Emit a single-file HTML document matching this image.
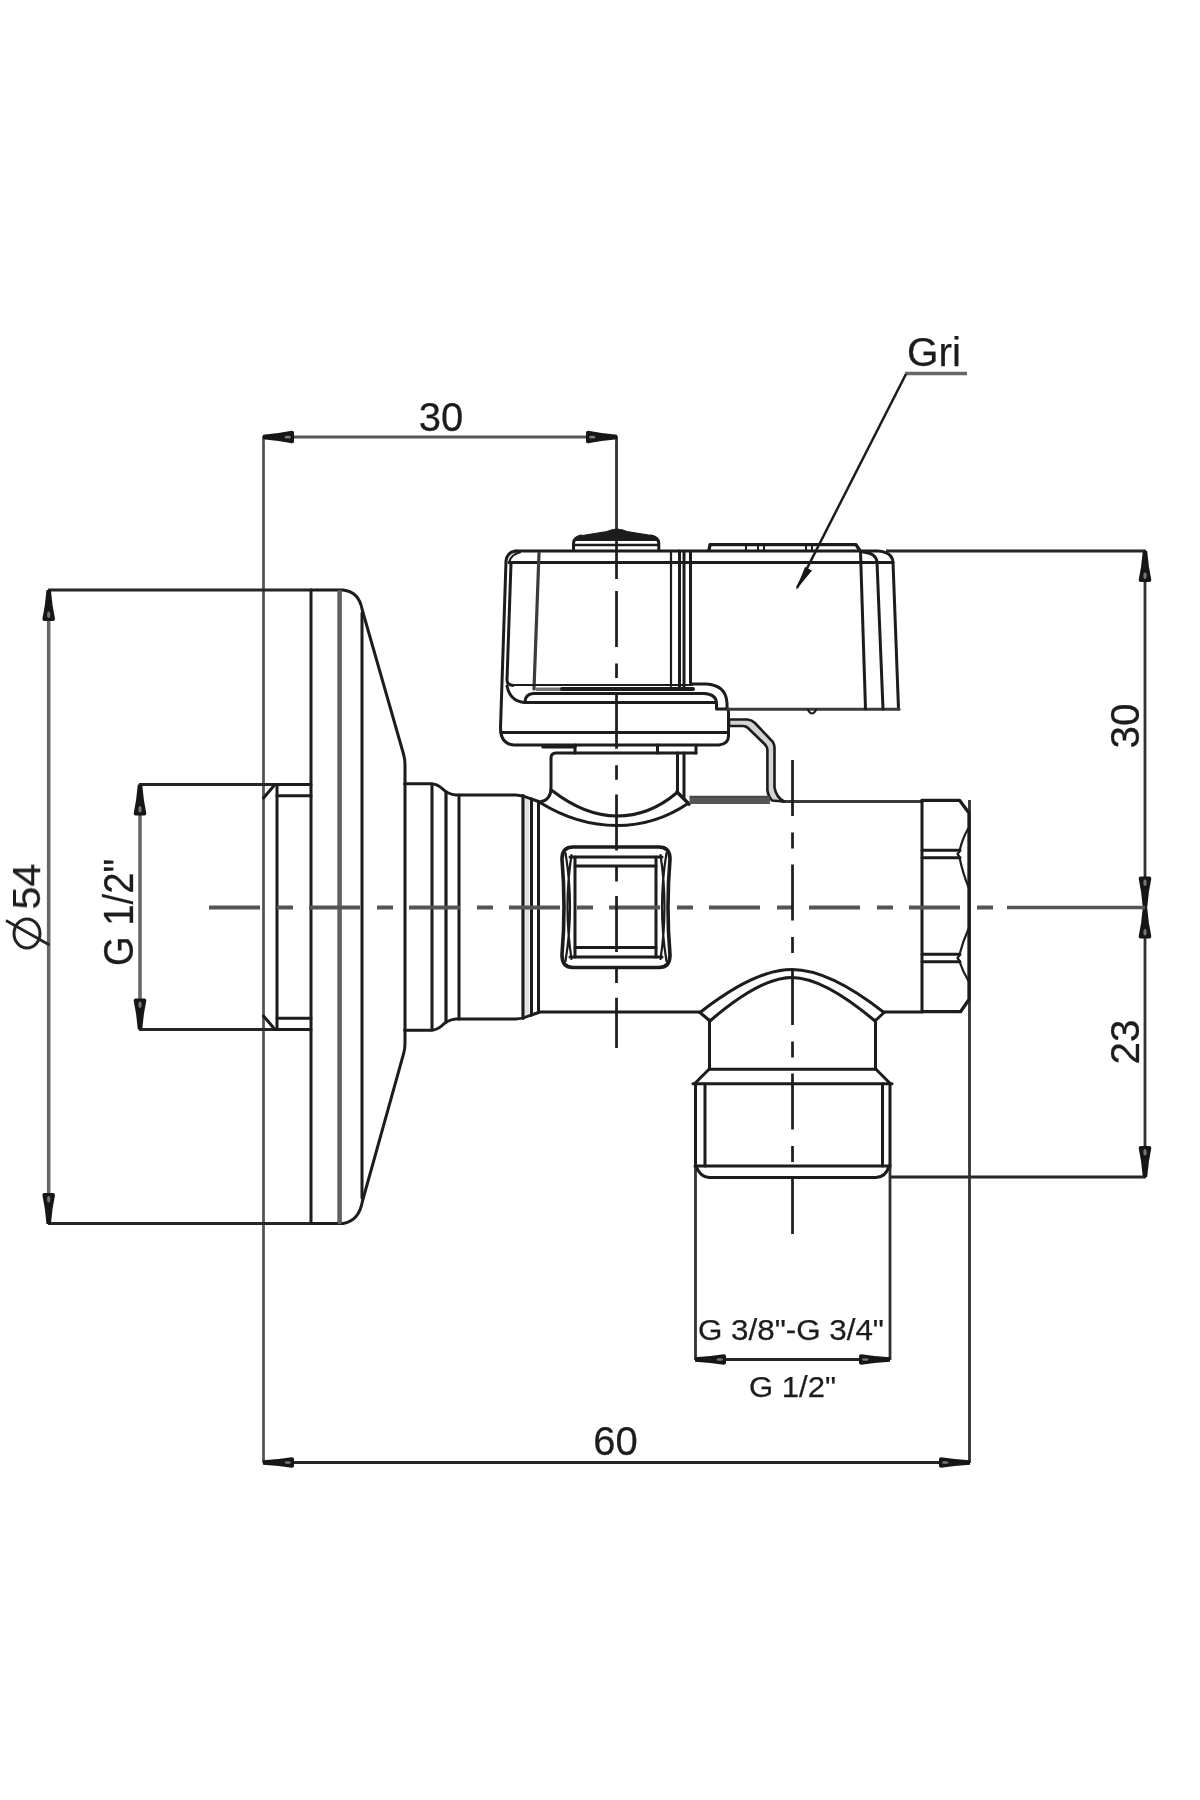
<!DOCTYPE html>
<html><head><meta charset="utf-8"><title>valve drawing</title>
<style>
html,body{margin:0;padding:0;background:#fff;}
body{width:1200px;height:1800px;overflow:hidden;}
svg{display:block;}
text{font-family:"Liberation Sans",sans-serif;}
</style></head><body>
<svg width="1200" height="1800" viewBox="0 0 1200 1800">
<rect x="0" y="0" width="1200" height="1800" fill="#fff"/>
<g filter="url(#soft)">
<defs><filter id="soft" x="0" y="0" width="1200" height="1800" filterUnits="userSpaceOnUse"><feGaussianBlur stdDeviation="0.6"/></filter></defs>
<g id="dim" fill="none" stroke="#3c3c3c" stroke-width="2.8" stroke-linecap="butt">
<path d="M263.5,436 V1463" stroke="#555" stroke-width="2.8"/>
<path d="M263,437 H617" stroke="#555" stroke-width="2.8"/>
<path d="M616.5,436 V530" stroke="#303030"/>
<path d="M48,590 H312" stroke="#262626"/>
<path d="M48,1223.5 H312" stroke="#262626"/>
<path d="M48.7,590 V1224" stroke="#686868" stroke-width="3.6"/>
<path d="M139,784.5 H275" stroke="#262626"/>
<path d="M139,1029.5 H275" stroke="#262626"/>
<path d="M140,784.5 V1029.5" stroke="#686868" stroke-width="3.6"/>
<path d="M886,551 H1146" stroke="#262626"/>
<path d="M890,1177 H1146" stroke="#262626"/>
<path d="M1145,551 V1177" stroke="#303030"/>
<path d="M969.5,800 V1463" stroke="#303030"/>
<path d="M695.5,1166 V1360" stroke="#303030"/>
<path d="M890,1166 V1360" stroke="#303030"/>
<path d="M695,1359.5 H890" stroke="#262626"/>
<path d="M263,1462.5 H970" stroke="#262626"/>
</g>
<path d="M905,373.5 H967" fill="none" stroke="#666" stroke-width="3.4"/>
<path d="M906,374 L797,588" fill="none" stroke="#1a1a1a" stroke-width="2.5"/>
<g id="arrows" fill="#161616" stroke="none">
<g transform="translate(263.0,437.0) rotate(90)"><path d="M-2.2,0 L-3.9,-15.5 L-6.3,-28.8 Q-6.3,-31.0 -4.4,-31.0 L4.4,-31.0 Q6.3,-31.0 6.3,-28.8 L3.9,-15.5 L2.2,0 Z"/><ellipse cx="0" cy="-24.8" rx="1.6" ry="3.2" fill="#777"/></g>
<g transform="translate(617.0,437.0) rotate(-90)"><path d="M-2.2,0 L-3.9,-15.5 L-6.3,-28.8 Q-6.3,-31.0 -4.4,-31.0 L4.4,-31.0 Q6.3,-31.0 6.3,-28.8 L3.9,-15.5 L2.2,0 Z"/><ellipse cx="0" cy="-24.8" rx="1.6" ry="3.2" fill="#777"/></g>
<g transform="translate(48.7,590.0) rotate(180)"><path d="M-2.2,0 L-3.9,-15.5 L-6.3,-28.8 Q-6.3,-31.0 -4.4,-31.0 L4.4,-31.0 Q6.3,-31.0 6.3,-28.8 L3.9,-15.5 L2.2,0 Z"/><ellipse cx="0" cy="-24.8" rx="1.6" ry="3.2" fill="#777"/></g>
<g transform="translate(48.7,1224.0) rotate(0)"><path d="M-2.2,0 L-3.9,-15.5 L-6.3,-28.8 Q-6.3,-31.0 -4.4,-31.0 L4.4,-31.0 Q6.3,-31.0 6.3,-28.8 L3.9,-15.5 L2.2,0 Z"/><ellipse cx="0" cy="-24.8" rx="1.6" ry="3.2" fill="#777"/></g>
<g transform="translate(140.0,784.5) rotate(180)"><path d="M-2.2,0 L-3.9,-15.5 L-6.3,-28.8 Q-6.3,-31.0 -4.4,-31.0 L4.4,-31.0 Q6.3,-31.0 6.3,-28.8 L3.9,-15.5 L2.2,0 Z"/><ellipse cx="0" cy="-24.8" rx="1.6" ry="3.2" fill="#777"/></g>
<g transform="translate(140.0,1029.5) rotate(0)"><path d="M-2.2,0 L-3.9,-15.5 L-6.3,-28.8 Q-6.3,-31.0 -4.4,-31.0 L4.4,-31.0 Q6.3,-31.0 6.3,-28.8 L3.9,-15.5 L2.2,0 Z"/><ellipse cx="0" cy="-24.8" rx="1.6" ry="3.2" fill="#777"/></g>
<g transform="translate(1145.0,551.0) rotate(180)"><path d="M-2.2,0 L-3.9,-15.5 L-6.3,-28.8 Q-6.3,-31.0 -4.4,-31.0 L4.4,-31.0 Q6.3,-31.0 6.3,-28.8 L3.9,-15.5 L2.2,0 Z"/><ellipse cx="0" cy="-24.8" rx="1.6" ry="3.2" fill="#777"/></g>
<g transform="translate(1145.0,907.5) rotate(0)"><path d="M-2.2,0 L-3.9,-15.5 L-6.3,-28.8 Q-6.3,-31.0 -4.4,-31.0 L4.4,-31.0 Q6.3,-31.0 6.3,-28.8 L3.9,-15.5 L2.2,0 Z"/><ellipse cx="0" cy="-24.8" rx="1.6" ry="3.2" fill="#777"/></g>
<g transform="translate(1145.0,907.5) rotate(180)"><path d="M-2.2,0 L-3.9,-15.5 L-6.3,-28.8 Q-6.3,-31.0 -4.4,-31.0 L4.4,-31.0 Q6.3,-31.0 6.3,-28.8 L3.9,-15.5 L2.2,0 Z"/><ellipse cx="0" cy="-24.8" rx="1.6" ry="3.2" fill="#777"/></g>
<g transform="translate(1145.0,1177.0) rotate(0)"><path d="M-2.2,0 L-3.9,-15.5 L-6.3,-28.8 Q-6.3,-31.0 -4.4,-31.0 L4.4,-31.0 Q6.3,-31.0 6.3,-28.8 L3.9,-15.5 L2.2,0 Z"/><ellipse cx="0" cy="-24.8" rx="1.6" ry="3.2" fill="#777"/></g>
<g transform="translate(695.0,1359.5) rotate(90)"><path d="M-2.2,0 L-3.5,-15.5 L-5.2,-28.8 Q-5.2,-31.0 -3.6,-31.0 L3.6,-31.0 Q5.2,-31.0 5.2,-28.8 L3.5,-15.5 L2.2,0 Z"/><ellipse cx="0" cy="-24.8" rx="1.3" ry="3.2" fill="#777"/></g>
<g transform="translate(890.0,1359.5) rotate(-90)"><path d="M-2.2,0 L-3.5,-15.5 L-5.2,-28.8 Q-5.2,-31.0 -3.6,-31.0 L3.6,-31.0 Q5.2,-31.0 5.2,-28.8 L3.5,-15.5 L2.2,0 Z"/><ellipse cx="0" cy="-24.8" rx="1.3" ry="3.2" fill="#777"/></g>
<g transform="translate(263.0,1462.5) rotate(90)"><path d="M-2.2,0 L-3.5,-15.5 L-5.2,-28.8 Q-5.2,-31.0 -3.6,-31.0 L3.6,-31.0 Q5.2,-31.0 5.2,-28.8 L3.5,-15.5 L2.2,0 Z"/><ellipse cx="0" cy="-24.8" rx="1.3" ry="3.2" fill="#777"/></g>
<g transform="translate(970.0,1462.5) rotate(-90)"><path d="M-2.2,0 L-3.5,-15.5 L-5.2,-28.8 Q-5.2,-31.0 -3.6,-31.0 L3.6,-31.0 Q5.2,-31.0 5.2,-28.8 L3.5,-15.5 L2.2,0 Z"/><ellipse cx="0" cy="-24.8" rx="1.3" ry="3.2" fill="#777"/></g>
<polygon points="796,590 805,567 812,570.5"/>
</g>
<g id="obj" fill="none" stroke="#1c1c1c" stroke-width="3" stroke-linejoin="round" stroke-linecap="round">
<path d="M311,590 H343 Q359,592 362,609 L403.5,754 Q405,759 405,765 V1043 Q405,1049 403.5,1054 L362.5,1201 Q359,1221 343,1223.5 H311 Z"/>
<path d="M339.6,592 V1222" stroke="#626262" stroke-width="4.6"/>
<path d="M362,613 V1198"/>
<path d="M311,784.5 H275 L263.5,798 M263.5,1016 L275,1029.5 H311"/>
<path d="M277,786 V1028"/>
<path d="M277,795.7 H311 M277,1018.3 H311"/>
<path d="M527.3,798 V1016" stroke="#e0e0e0" stroke-width="4" stroke-linecap="butt"/>
<path d="M404.5,783.7 H431 Q437,784 441.5,788 Q448,794.5 456,795 H516 Q524,795.5 530,798.5 L538.5,801.5"/>
<path d="M404.5,1030.3 H431 Q437,1030 441.5,1026 Q448,1019.5 456,1019 H516 Q524,1018.5 530,1015.5 L538.5,1012.5"/>
<path d="M432,784 V1030 M459,795 V1019 M531.5,799 V1015 M538.5,801.5 V1012.5"/>
<path d="M446,792 V1022 M523,795.5 V1018.5" stroke-width="3.2"/>
<path d="M539,1012 H700 M884,1012 H922"/>
<path d="M783,801.5 H922" stroke="#3a3a3a"/>
<path d="M696,753 H556 Q551,753 551,758 V788 Q551,800 540,802"/>
<path d="M677.5,753 V792 M684,753 V798"/>
<path d="M540,802.5 C565,818 590,825.5 617,825.5 C644,825.5 668,817 688,803.5"/>
<path d="M552,790.5 C572,806 594,816 617,816 C640,816 660,807 676.5,793"/>
<path d="M677,792 L689,804" stroke-width="3.6"/>
<path d="M573,847 H659 Q670,847 670,859 Q666,907 670,955 Q670,967.5 659,967.5 H573 Q562,967.5 562,955 Q566,907 562,859 Q562,847 573,847 Z" stroke-width="3.6"/>
<path d="M570,857 H662 M575,866 H656 M575,947.5 H656 M570,957 H662"/>
<path d="M575,857 V957 M656,857 V957"/>
<path d="M565.5,853 Q574.5,907 565.5,961 M571.5,855 Q563.5,907 571.5,959 M666.5,853 Q657.5,907 666.5,961 M660.5,855 Q668.5,907 660.5,959" stroke-width="2.2"/>
<path d="M922,800.3 V1011.7"/>
<path d="M922,800.3 H959.5 L969,813 V999.5 L960.5,1011.7 H922" stroke-width="3.3"/>
<path d="M922,850.3 H960 M922,857.7 H960 M922,954.3 H960 M922,961.7 H960"/>
<path d="M959.5,851 Q962.5,838 968.5,828 M959.5,857.5 Q963,874 968.5,887 M968.5,929 Q963,941 959.5,954.5 M959.5,961.5 Q963,972 968.5,981 M960,851 L957.5,854 L960,857.5 M960,954.5 L957.5,958 L960,961.5" stroke-width="2.2"/>
<path d="M700,1012.5 C735,985 765,969.5 792,969.5 C819,969.5 849,985 884,1012.5"/>
<path d="M710.5,1020.5 C740,995 768,977.5 792,977.5 C816,977.5 844,995 874.5,1020.5"/>
<path d="M700,1012.5 L710,1021 M884,1012.5 L875,1021"/>
<path d="M709.5,1020 V1069.3 M875.5,1020 V1069.3"/>
<path d="M709,1069.3 H876"/>
<path d="M709,1069.3 L695,1083.3 M876,1069.3 L890,1083.3"/>
<path d="M693,1083.8 H892"/>
<path d="M695.5,1083.8 V1166 M890,1083.8 V1166"/>
<path d="M705,1084 V1166 M882.5,1084 V1166"/>
<path d="M695,1166 H890"/>
<path d="M696,1166 Q700,1177 709,1177.5 H876 Q886,1177 889,1166"/>
</g>
<g id="handle" fill="none" stroke="#1c1c1c" stroke-width="3" stroke-linejoin="round" stroke-linecap="round">
<path d="M575.5,540.3 Q576,536.5 584,535.3 L607,531.5 Q617,526.5 627,531.5 L650,535.3 Q657.5,536.5 658,540.3 Z" fill="#1c1c1c" stroke-width="1.2"/>
<path d="M573.5,550.5 V543 Q574,537.5 581,536 M658.8,550.5 V543 Q658.5,537.5 651,536"/>
<path d="M574,545 H658.5" stroke-width="2.3"/>
<path d="M516,551 H878 Q892,552 893,562 L898.5,709"/>
<path d="M516,551 Q507,552 506,561 L500.5,728 Q500.5,744 514,745 H719 Q728.5,744 728.5,736 V709"/>
<path d="M509,562.5 H893"/>
<path d="M509,563 Q511,554 520,552.5" stroke-width="2"/>
<path d="M511,563 L507,680 Q507,685 513,685.5"/>
<path d="M539,553 L534,689" stroke="#3a3a3a" stroke-width="3.2"/>
<path d="M512,685 H692" stroke-width="2"/>
<path d="M537,689.3 H562" stroke="#777" stroke-width="3.4"/>
<path d="M562,689 H693" stroke-width="4"/>
<path d="M671,552 V686" stroke-width="2.2"/>
<path d="M679.5,551 V688 M684,553 V688"/>
<path d="M690.5,552 V684"/>
<path d="M507,686 Q510,701 524,702.5 H716"/>
<path d="M525,702 Q525,694.5 533,693.5 H704 Q716,694 716.5,703 V709 H727"/>
<path d="M692,684 H706 Q726,685 727,703 V709"/>
<path d="M501,732.5 H728"/>
<path d="M575,745 V753 M657.5,745 V753 M696,745 V753"/>
<path d="M543,746.8 H575" stroke-width="3.6"/>
<path d="M728,709.3 H899" stroke="#3a3a3a"/>
<path d="M860.5,552 L865.5,709"/>
<path d="M863,552 Q876,553 877,562 L883,709"/>
<path d="M808,710 Q812,717 816,710" stroke-width="2.2"/>
<path d="M709,550 L710,544.6 H856 L859.5,550" stroke-width="3.3"/>
<path d="M746,544 V550 M758,544 V550 M764,544 V550 M806,544 V550 M812,544 V550" stroke-width="2"/>
<path d="M729,719.5 H747.5 Q752,720 755,723 L771,740 Q774.5,743 774.5,748 V787.5 Q776,797 784,801.5 L772,800.5 Q768,796 767.4,790 V750 Q767.4,747 765,744.5 L748,728 Q746,726 743,726 H729 Z" fill="#d4d4d4" stroke-width="2.6"/>
</g>
<path d="M689.5,800.5 H770" fill="none" stroke="#555" stroke-width="7"/>
<path d="M689.5,796.6 H770" fill="none" stroke="#444" stroke-width="1.6"/>
<path d="M209,907.5 H1007" fill="none" stroke="#555" stroke-width="3.8" stroke-dasharray="51 17 16 16"/>
<path d="M1007,907.5 H1145" fill="none" stroke="#555" stroke-width="3.6"/>
<path d="M616.5,530 V579" fill="none" stroke="#1c1c1c" stroke-width="2.7"/>
<path d="M616.5,591 V1048" fill="none" stroke="#1c1c1c" stroke-width="2.7" stroke-dasharray="56 16.5 14.5 14.7"/>
<path d="M792.5,760 V1236" fill="none" stroke="#1c1c1c" stroke-width="2.7" stroke-dasharray="56 16.5 16 16"/>
<g id="txt" font-family="'Liberation Sans', sans-serif" fill="#1e1e1e" stroke="#1e1e1e" stroke-width="0.25">
<text x="441" y="431" font-size="40" text-anchor="middle">30</text>
<text x="615.5" y="1455" font-size="40" text-anchor="middle">60</text>
<text x="907" y="366" font-size="40" textLength="54" lengthAdjust="spacingAndGlyphs">Gri</text>
<text transform="translate(1139,726) rotate(-90)" font-size="40.5" text-anchor="middle">30</text>
<text transform="translate(1139,1042) rotate(-90)" font-size="40.5" text-anchor="middle">23</text>
<text transform="translate(132.5,966) rotate(-90)" font-size="42" textLength="107" lengthAdjust="spacingAndGlyphs">G 1/2"</text>
<text transform="translate(40,909.5) rotate(-90)" font-size="38" textLength="46" lengthAdjust="spacingAndGlyphs">54</text>
<ellipse cx="27" cy="933.5" rx="13" ry="14.5" fill="none" stroke="#222" stroke-width="3"/>
<path d="M49.5,945 L6,920.5" fill="none" stroke="#222" stroke-width="2.6"/>
<text x="698" y="1339.5" font-size="29.5" textLength="186" lengthAdjust="spacingAndGlyphs">G 3/8"-G 3/4"</text>
<text x="749" y="1397" font-size="29.5" textLength="87" lengthAdjust="spacingAndGlyphs">G 1/2"</text>
</g>
</g>
</svg>
</body></html>
